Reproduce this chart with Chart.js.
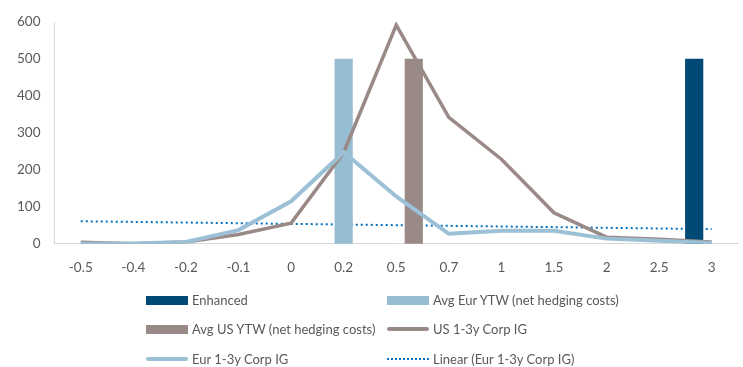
<!DOCTYPE html>
<html>
<head>
<meta charset="utf-8">
<script src="https://cdn.jsdelivr.net/npm/chart.js@4/dist/chart.umd.min.js"></script>
<style>
    body { margin: 0; background: #fff; }
    #wrap { position: relative; width: 743px; height: 367px; }
    #legend { position: absolute; left: 0; top: 0; width: 743px; height: 367px; pointer-events: none;
              font-family: Lato, "Open Sans", sans-serif; font-size: 13px; color: #595959; }
    .item { position: absolute; display: flex; align-items: center; height: 16px; white-space: nowrap; }
    .swatch { width: 42px; margin-right: 4px; }
</style>
</head>
<body>
<div id="wrap">
    <canvas id="chart" width="743" height="367"></canvas>
    <div id="legend"></div>
</div>
<script>
// categories along the x axis
const categories = ['-0.5', '-0.4', '-0.2', '-0.1', '0', '0.2', '0.5', '0.7', '1', '1.5', '2', '2.5', '3'];
const yTicks = [0, 100, 200, 300, 400, 500, 600];

// bar series (one bar each)
const enhanced = [null, null, null, null, null, null, null, null, null, null, null, null, 500];
const avgEurYtw = [null, null, null, null, null, 500, null, null, null, null, null, null, null];
const avgUsYtw = [null, null, null, null, null, null, 500, null, null, null, null, null, null];

// line series
const us13Corp = [4, 0, 5, 25, 56, 247, 592, 342, 229, 84, 18, 12, 5];
const eur13Corp = [0, 1, 5, 37, 115, 248, 128, 27, 35, 35, 14, 8, 2];
const linearEur = [61, 59.3, 57.5, 55.7, 53.9, 52.2, 50.4, 48.6, 46.8, 45.1, 43.3, 41.5, 39.7];

const datasets = [
    { type: 'bar', label: 'Enhanced', data: enhanced, backgroundColor: '#004a75', order: 5 },
    { type: 'bar', label: 'Avg Eur YTW (net hedging costs)', data: avgEurYtw, backgroundColor: '#97bdd2', order: 5 },
    { type: 'bar', label: 'Avg US YTW (net hedging costs)', data: avgUsYtw, backgroundColor: '#9a8a87', order: 5 },
    { type: 'line', label: 'US 1-3y Corp IG', data: us13Corp, borderColor: '#9a8a87', borderWidth: 3.5, order: 2 },
    { type: 'line', label: 'Eur 1-3y Corp IG', data: eur13Corp, borderColor: '#9cc1d6', borderWidth: 4, order: 1 },
    { type: 'line', label: 'Linear (Eur 1-3y Corp IG)', data: linearEur, borderColor: '#0070c0', borderWidth: 2, borderDash: [2, 3], order: 10 }
];
datasets.forEach(ds => {
    if (ds.type === 'bar') {
        ds.barPercentage = 1;
        ds.categoryPercentage = 1;
    } else {
        ds.pointRadius = 0;
        ds.tension = 0;
        ds.fill = false;
    }
});

const tickFont = { family: 'Lato, "Open Sans", sans-serif', size: 13.5 };

new Chart(document.getElementById('chart'), {
    data: { labels: categories, datasets: datasets },
    options: {
        responsive: false,
        animation: false,
        layout: { padding: { left: 3, right: 5, top: 0, bottom: 75 } },
        plugins: { legend: { display: false }, tooltip: { enabled: false } },
        scales: {
            x: {
                grid: { display: false, drawTicks: false },
                border: { display: true, color: '#d9d9d9', width: 1 },
                ticks: { color: '#595959', font: tickFont, padding: 16, maxRotation: 0, autoSkip: false }
            },
            y: {
                min: 0, max: 600,
                afterBuildTicks: axis => { axis.ticks = yTicks.map(v => ({ value: v })); },
                grid: { display: false, drawTicks: false },
                border: { display: true, color: '#d9d9d9', width: 1 },
                ticks: { color: '#595959', font: tickFont, padding: 14 }
            }
        }
    }
});

// legend laid out in two columns like the original
const legendPos = [[146, 300], [387, 300], [146, 329], [387, 329], [146, 359], [387, 359]];
const legend = document.getElementById('legend');
datasets.forEach((ds, i) => {
    const item = document.createElement('div');
    item.className = 'item';
    item.style.left = legendPos[i][0] + 'px';
    item.style.top = (legendPos[i][1] - 8) + 'px';
    const sw = document.createElement('div');
    sw.className = 'swatch';
    if (ds.type === 'bar') {
        sw.style.height = '9px';
        sw.style.background = ds.backgroundColor;
    } else if (ds.borderDash) {
        sw.style.borderTop = '2px dotted ' + ds.borderColor;
    } else {
        sw.style.height = '0';
        sw.style.borderTop = Math.round(ds.borderWidth) + 'px solid ' + ds.borderColor;
        sw.style.borderRadius = '2px';
    }
    const txt = document.createElement('span');
    txt.textContent = ds.label;
    item.appendChild(sw);
    item.appendChild(txt);
    legend.appendChild(item);
});
</script>
</body>
</html>
